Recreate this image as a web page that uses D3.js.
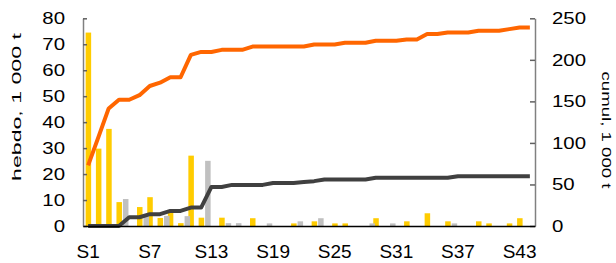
<!DOCTYPE html>
<html>
<head>
<meta charset="utf-8">
<script src="https://cdn.jsdelivr.net/npm/d3@7"></script>
<style>
  body { margin: 0; background: #fff; }
  svg { display: block; font-family: "Liberation Sans", Arial, sans-serif; }
</style>
</head>
<body>
<svg id="chart" width="616" height="263"></svg>
<script>
// semaines S1..S44
var weeks = d3.range(1, 45).map(function(d){ return "S" + d });
var weekTicks = ["S1", "S7", "S13", "S19", "S25", "S31", "S37", "S43"];

// hebdo, 1 000 t (barres)
var hebdoJaune = [74.5, 29.8, 37.4, 9.2, 0, 7.3, 11.1, 3.1, 5.2, 1.1,
                  27.1, 3.2, 0, 3.2, 0, 0, 3.0, 0, 0, 0,
                  1.0, 0, 1.8, 0, 1.0, 1.0, 0, 0, 3.0, 0,
                  0, 1.8, 0, 4.9, 0, 1.8, 0, 0, 1.8, 1.0,
                  0, 1.0, 3.0, 0];
var hebdoGris  = [0, 0, 0, 10.4, 0, 4.2, 0, 3.9, 0, 3.8,
                  0, 25.1, 0, 1.1, 1.1, 0, 0, 1.0, 0, 0,
                  1.8, 0, 3.0, 0, 0, 0, 0, 1.0, 0, 1.0,
                  0, 0, 0, 0, 0, 1.0, 0, 0, 0, 0,
                  0, 0, 0, 0];

// cumul, 1 000 t (courbes)
var cumulOrange = [73, 107, 141.5, 152, 152, 157.5, 168.5, 172.5, 179, 179,
                   206, 209.5, 209.5, 212, 212, 212, 216, 216, 216, 216,
                   216, 216, 218.5, 218.5, 218.5, 220.5, 220.5, 220.5, 223, 223,
                   223, 224.5, 224.5, 231, 231, 233, 233, 233, 235, 235,
                   235, 237, 239, 239];
var cumulGris = [0, 0, 0, 0, 10.5, 10.5, 14.2, 14.2, 18.2, 18.2,
                 22.2, 22.2, 47, 47, 49.5, 49.5, 49.5, 49.5, 51.8, 51.8,
                 51.8, 53, 54, 56, 56, 56, 56, 56, 58, 58,
                 58, 58, 58, 58, 58, 58, 60, 60, 60, 60,
                 60, 60, 60, 60];

var leftTicks = [0, 10, 20, 30, 40, 50, 60, 70, 80];
var rightTicks = [0, 50, 100, 150, 200, 250];

var svg = d3.select("#chart");
var plotL = 83, plotR = 535, plotT = 18.3, plotB = 226;

var x = d3.scaleBand().domain(weeks).range([plotL, plotR]);
var yL = d3.scaleLinear().domain([0, 80]).range([plotB, plotT]);
var yR = d3.scaleLinear().domain([0, 250]).range([plotB, plotT]);
// jaune centre sur la semaine, gris juste a droite
var sub = d3.scaleBand().domain(["jaune", "gris"]).range([-2.5, 9.5]).paddingInner(0.15);

function center(w){ return x(w) + x.bandwidth() / 2 }

// stretch text horizontally like the original
function stretch(sel, k){
    sel.each(function(){
        var w = this.getComputedTextLength();
        this.setAttribute("textLength", w * k);
        this.setAttribute("lengthAdjust", "spacingAndGlyphs");
    });
}

/*
    bars
*/
function drawBars(values, key, fill){
    svg.append("g").selectAll("rect")
        .data(values.map(function(v, i){ return {w: weeks[i], v: v} }).filter(function(d){ return d.v > 0 }))
        .join("rect")
        .attr("x", function(d){ return center(d.w) + sub(key) })
        .attr("width", sub.bandwidth())
        .attr("y", function(d){ return yL(d.v) })
        .attr("height", function(d){ return yL(0) - yL(d.v) })
        .attr("fill", fill);
}
drawBars(hebdoJaune, "jaune", "#ffcc00");
drawBars(hebdoGris, "gris", "#c0c0c0");

/*
    lines
*/
function drawLine(values, color){
    var line = d3.line()
        .x(function(d, i){ return center(weeks[i]) })
        .y(function(d){ return yR(d) });
    svg.append("path")
        .datum(values)
        .attr("d", line)
        .attr("fill", "none")
        .attr("stroke", color)
        .attr("stroke-width", 4)
        .attr("stroke-linejoin", "round");
}
drawLine(cumulGris, "#404040");
drawLine(cumulOrange, "#ff6600");

/*
    axes
*/
var gL = svg.append("g")
    .attr("transform", "translate(" + plotL + ",0)")
    .call(d3.axisLeft(yL).tickValues(leftTicks).tickSizeInner(-4).tickSizeOuter(0).tickPadding(18));
var gR = svg.append("g")
    .attr("transform", "translate(" + plotR + ",0)")
    .call(d3.axisRight(yR).tickValues(rightTicks).tickSizeInner(-5).tickSizeOuter(0).tickPadding(17));
var gB = svg.append("g")
    .attr("transform", "translate(0," + plotB + ")")
    .call(d3.axisBottom(x).tickValues(weekTicks).tickSize(0).tickPadding(19));

[gL, gR].forEach(function(g){
    g.select(".domain").attr("stroke", "#808080").attr("stroke-width", 1.5);
    g.selectAll(".tick line").attr("stroke", "#606060").attr("stroke-width", 1.5);
    g.selectAll("text").attr("font-size", 17).attr("fill", "#000").attr("font-family", null);
    stretch(g.selectAll("text"), 1.2);
});
gB.select(".domain").attr("stroke", "#000").attr("stroke-width", 1.5);
gB.selectAll("text").attr("font-size", 19).attr("fill", "#000").attr("font-family", null);

/*
    titles (glyphs drawn long and thin, as in the original)
*/
function axisTitle(label, tx, ty, angle, len){
    var t = svg.append("text")
        .attr("text-anchor", "middle")
        .attr("font-size", 13)
        .text(label);
    var k = len / t.node().getComputedTextLength();
    t.attr("transform", "translate(" + tx + "," + ty + ") rotate(" + angle + ") scale(" + k + ",1)");
}
axisTitle("hebdo, 1 000 t", 21, 107, -90, 148);
axisTitle("cumul, 1 000 t", 602, 130, 90, 117);
</script>
</body>
</html>
